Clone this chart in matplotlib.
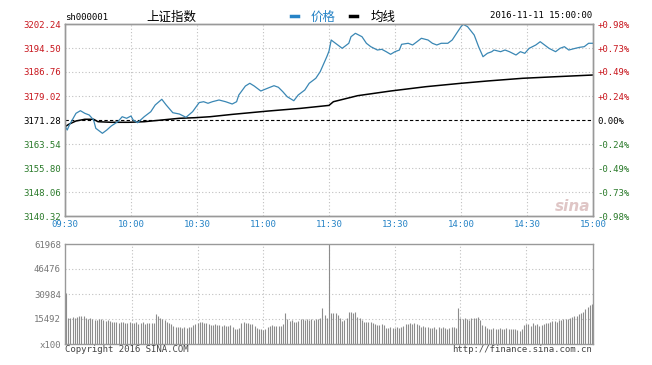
"""
上证指数 分时图 (2016-11-11)
"""
import matplotlib
matplotlib.use('Agg')
import matplotlib.pyplot as plt
from matplotlib.lines import Line2D

plt.rcParams['font.family'] = ['DejaVu Sans Mono', 'Noto Sans CJK SC']

# 数据
time_labels = ['09:30', '10:00', '10:30', '11:00', '11:30', '13:30', '14:00', '14:30', '15:00']
prev_close = 3171.28
price_ticks = [3140.32, 3148.06, 3155.80, 3163.54, 3171.28, 3179.02, 3186.76, 3194.50, 3202.24]
pct_labels = ['-0.98%', '-0.73%', '-0.49%', '-0.24%', '0.00%', '+0.24%', '+0.49%', '+0.73%', '+0.98%']
vol_ticks = [0, 15492, 30984, 46476, 61968]
vol_labels = ['x100', '15492', '30984', '46476', '61968']

price_min = [0, 1, 2, 5, 7, 9, 11, 13, 14, 17, 19, 21, 24, 26, 28, 30, 31, 33, 36, 39,
             41, 44, 46, 49, 52, 55, 58, 61, 63, 65, 67, 70, 73, 76, 78, 79, 82, 84, 86, 89,
             92, 95, 97, 99, 101, 104, 106, 109, 111, 114, 116, 118, 119, 120, 121, 122, 124, 126, 129, 130,
             132, 135, 137, 139, 142, 144, 146, 148, 150, 152, 153, 156, 158, 160, 162, 165, 167, 169, 171, 174,
             176, 178, 180, 181, 183, 186, 188, 190, 192, 194, 195, 198, 200, 202, 205, 207, 209, 211, 214, 216,
             218, 220, 223, 225, 227, 229, 232, 234, 236, 238, 240]
price = [3169.4, 3168.05, 3169.67, 3173.44, 3174.28, 3173.44, 3172.89, 3171.28, 3168.60, 3166.99,
         3168.05, 3169.34, 3170.73, 3172.34, 3171.83, 3172.57, 3171.28, 3170.41, 3172.34, 3173.96,
         3176.12, 3177.96, 3176.12, 3173.63, 3173.21, 3172.15, 3173.96, 3176.9, 3177.18, 3176.67,
         3177.18, 3177.73, 3177.18, 3176.44, 3177.18, 3179.34, 3182.24, 3183.12, 3182.24, 3180.63,
         3181.50, 3182.34, 3181.83, 3180.41, 3178.79, 3177.50, 3179.34, 3180.95, 3183.12, 3184.73,
         3186.86, 3190.08, 3191.69, 3193.5, 3197.08, 3196.53, 3195.47, 3194.40, 3196.02, 3198.14,
         3199.24, 3198.14, 3196.02, 3194.92, 3193.85, 3194.08, 3193.31, 3192.47, 3193.31, 3193.85,
         3195.69, 3196.02, 3195.47, 3196.53, 3197.63, 3197.08, 3196.02, 3195.47, 3196.02, 3196.02,
         3197.08, 3199.24, 3201.37, 3202.14, 3201.37, 3198.69, 3194.92, 3191.69, 3192.79, 3193.31,
         3193.85, 3193.31, 3193.85, 3193.31, 3192.24, 3193.31, 3192.79, 3194.40, 3195.47, 3196.53,
         3195.47, 3194.40, 3193.31, 3194.40, 3194.92, 3193.85, 3194.40, 3194.73, 3194.92, 3196.02,
         3196.02]

avg_min = [0, 2, 5, 9, 13, 15, 21, 29, 36, 44, 52, 59, 66, 76, 92, 107, 120, 122,
           133, 148, 164, 180, 192, 208, 223, 240]
avg_price = [3169.12, 3170.0, 3170.96, 3171.51, 3171.51, 3170.73, 3170.54, 3170.54, 3170.73,
             3171.28, 3171.83, 3172.02, 3172.34, 3173.09, 3174.15, 3175.03, 3175.99, 3177.18,
             3179.12, 3180.63, 3182.02, 3183.12, 3183.86, 3184.73, 3185.24, 3185.79]

volume = [31600, 16400, 16200, 16500, 16300, 16600, 17400, 17600, 17200, 16100,
          15800, 15900, 15400, 14600, 15000, 15600, 15800, 14700, 14300, 14900,
          14400, 13600, 13900, 13400, 13200, 13700, 13500, 12900, 13300, 13600,
          13100, 12800, 13400, 12700, 13000, 13600, 12500, 13200, 12900, 13300,
          13000, 18600, 17400, 16200, 15800, 14700, 13800, 13200, 12400, 11300,
          10800, 10500, 10700, 10200, 10600, 9900, 10300, 10800, 11500, 12300,
          13200, 13700, 13500, 12800, 13100, 12200, 11700, 11900, 12300, 11500,
          11800, 11200, 11900, 11400, 10900, 11600, 10800, 9600, 9300, 9800,
          12800, 13600, 13300, 13000, 12700, 12400, 11000, 10200, 9500, 9100,
          8700, 9300, 10800, 11200, 11500, 11000, 11300, 10900, 11200, 12100,
          19200, 15500, 14100, 14600, 13700, 13900, 14300, 15200, 15500, 15000,
          15400, 14800, 15600, 15100, 15300, 15800, 16300, 22300, 18000, 16200,
          61968, 19200, 19000, 19300, 17800, 16100, 14300, 14700, 16000, 19800,
          20100, 19500, 19800, 16700, 16400, 14600, 13600, 13900, 13500, 13800,
          13300, 12100, 11800, 11500, 12200, 11900, 10200, 9900, 10400, 10100,
          9800, 10300, 10100, 10600, 11400, 12300, 12600, 12800, 12500, 12900,
          12100, 11500, 10500, 11000, 10700, 10600, 10200, 10100, 10400, 9600,
          10300, 9800, 10600, 9900, 9400, 10100, 10300, 10400, 10100, 22300,
          16100, 15800, 16300, 15500, 14800, 16200, 15900, 16000, 16500, 15100,
          11600, 11200, 10100, 9400, 9300, 9700, 9100, 9400, 9800, 9500,
          9200, 9700, 9400, 9000, 9600, 9100, 8700, 8100, 9500, 11800,
          12600, 12500, 11400, 12800, 11700, 12200, 11300, 11900, 12400, 12900,
          13300, 13900, 14200, 14500, 13800, 14600, 14900, 15200, 15600, 15400,
          16200, 16900, 17600, 17200, 18300, 19300, 19800, 21600, 22800, 24000,
          24500]

RED = '#c8161d'
GREEN = '#2a7a2a'
BLUE = '#2683c6'
LINE = '#3a87b4'
BORDER = '#999999'
GRID = '#c0c0c0'

fig = plt.figure(figsize=(6.52, 3.65), dpi=100)
ax = fig.add_axes([65 / 652, 1 - 216 / 365, 528 / 652, 192 / 365])
axv = fig.add_axes([65 / 652, 1 - 344 / 365, 528 / 652, 100 / 365])

tick_pos = [i * 30 for i in range(len(time_labels))]

# 价格
ax.set_xlim(0, 240)
ax.set_ylim(price_ticks[0], price_ticks[-1])
for t in tick_pos[1:-1]:
    ax.axvline(t, color=GRID, lw=0.8, ls=(0, (1, 2)), zorder=0)
for p in price_ticks[1:-1]:
    if p == prev_close:
        ax.axhline(p, color='black', lw=0.8, ls=(0, (3, 2)), zorder=1)
    else:
        ax.axhline(p, color=GRID, lw=0.8, ls=(0, (1, 2)), zorder=0)
ax.plot(avg_min, avg_price, color='black', lw=1.1, zorder=2)
ax.plot(price_min, price, color=LINE, lw=0.9, zorder=3)

ax.set_xticks(tick_pos)
ax.set_xticklabels(time_labels)
ax.set_yticks(price_ticks)
ax.set_yticklabels([f'{p:.2f}' for p in price_ticks])
ax.tick_params(length=0, labelsize=6.5, pad=3)
for lbl in ax.get_xticklabels():
    lbl.set_color(BLUE)
for p, lbl in zip(price_ticks, ax.get_yticklabels()):
    lbl.set_color('black' if p == prev_close else (RED if p > prev_close else GREEN))

axr = ax.twinx()
axr.set_ylim(price_ticks[0], price_ticks[-1])
axr.set_yticks(price_ticks)
axr.set_yticklabels(pct_labels)
axr.tick_params(length=0, labelsize=6.5, pad=3)
for p, lbl in zip(price_ticks, axr.get_yticklabels()):
    lbl.set_color('black' if p == prev_close else (RED if p > prev_close else GREEN))

for a in (ax, axr, axv):
    for s in a.spines.values():
        s.set_color(BORDER)
        s.set_linewidth(1)

# 新浪水印
ax.text(239, 3141.0, 'sina', color='#d8b8b8', fontsize=11, style='italic',
        fontweight='bold', family='DejaVu Sans', ha='right', va='bottom', alpha=0.8)

# 成交量
axv.set_xlim(-0.5, 240.5)
axv.set_ylim(0, vol_ticks[-1])
for t in tick_pos[1:-1]:
    axv.axvline(t, color=GRID, lw=0.8, ls=(0, (1, 2)), zorder=0)
for v in vol_ticks[1:-1]:
    axv.axhline(v, color=GRID, lw=0.8, ls=(0, (1, 2)), zorder=0)
axv.vlines(range(len(volume)), 0, volume, color='#8c8c8c', lw=0.8, zorder=2)
axv.set_xticks([])
axv.set_yticks(vol_ticks)
axv.set_yticklabels(vol_labels)
axv.tick_params(length=0, labelsize=6.5, pad=3, colors='#777777')

# 标题与图例
fig.text(65 / 652, 1 - 17 / 365, 'sh000001', fontsize=6.5, va='center', ha='left')
fig.text(146 / 652, 1 - 17 / 365, '上证指数', fontsize=9, va='center', ha='left',
         family=['Noto Sans CJK SC'])
fig.add_artist(Line2D([291 / 652, 298 / 652], [1 - 16 / 365] * 2, color=BLUE, lw=2.5))
fig.text(311 / 652, 1 - 17 / 365, '价格', fontsize=9, va='center', ha='left',
         color=BLUE, family=['Noto Sans CJK SC'])
fig.add_artist(Line2D([350 / 652, 357 / 652], [1 - 16 / 365] * 2, color='black', lw=2.5))
fig.text(371 / 652, 1 - 17 / 365, '均线', fontsize=9, va='center', ha='left',
         family=['Noto Sans CJK SC'])
fig.text(592 / 652, 1 - 16 / 365, '2016-11-11 15:00:00', fontsize=6.5,
         va='center', ha='right')

fig.text(65 / 652, 1 - 350 / 365, 'Copyright 2016 SINA.COM', fontsize=6.5,
         va='center', ha='left', color='#444444')
fig.text(592 / 652, 1 - 350 / 365, 'http://finance.sina.com.cn', fontsize=6.5,
         va='center', ha='right', color='#444444')

fig.savefig('out.png', dpi=100, facecolor='white')
